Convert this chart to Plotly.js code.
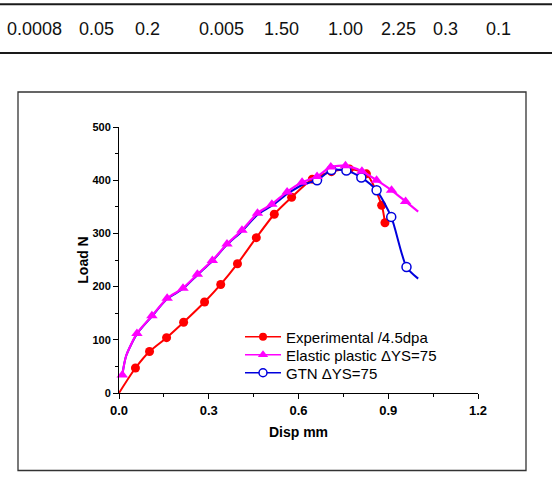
<!DOCTYPE html>
<html>
<head>
<meta charset="utf-8">
<script src="https://cdn.plot.ly/plotly-3.0.1.min.js"></script>
<style>
  html, body { margin: 0; padding: 0; background: #fff; }
  #chart { width: 552px; height: 478px; }
</style>
</head>
<body>
<div id="chart"></div>
<script>
// Row of parameter values shown above the figure
const tableValues = ["0.0008", "0.05", "0.2", "0.005", "1.50", "1.00", "2.25", "0.3", "0.1"];

// Experimental load-displacement curve (4.5 dpa)
const expDisp = [0.000, 0.055, 0.102, 0.159, 0.216, 0.286, 0.340, 0.396, 0.459, 0.519, 0.577, 0.646, 0.710, 0.770, 0.827, 0.878, 0.889];
const expLoad = [0, 47, 78, 104, 133, 171, 204, 243, 292, 336, 368, 402, 416, 421, 412, 353, 320];
const expMarked = [0, 1, 1, 1, 1, 1, 1, 1, 1, 1, 1, 1, 1, 1, 1, 1, 1];

// Elastic-plastic simulation, ΔYS = 75
const epDisp = [0.011, 0.024, 0.060, 0.110, 0.161, 0.214, 0.262, 0.312, 0.361, 0.411, 0.463, 0.511, 0.562, 0.612, 0.662, 0.708, 0.757, 0.812, 0.861, 0.911, 0.958, 1.000];
const epLoad = [34, 70, 112, 145, 178, 197, 223, 249, 280, 306, 338, 355, 378, 396, 407, 425, 427, 417, 400, 381, 360, 341];
const epMarked = [1, 0, 1, 1, 1, 1, 1, 1, 1, 1, 1, 1, 1, 1, 1, 1, 1, 1, 1, 1, 1, 0];

// GTN damage model simulation, ΔYS = 75 (follows the elastic-plastic curve until the peak)
const gtnDisp = [0.011, 0.024, 0.060, 0.110, 0.161, 0.214, 0.262, 0.312, 0.361, 0.411, 0.463, 0.511, 0.562, 0.612, 0.662, 0.710, 0.760, 0.810, 0.861, 0.910, 0.961, 1.000];
const gtnLoad = [34, 70, 111, 144, 177, 196, 222, 248, 279, 304, 335, 352, 374, 391, 400, 419, 418, 405, 381, 331, 237, 215];
const gtnMarked = [0, 0, 0, 0, 0, 0, 0, 0, 0, 0, 0, 0, 0, 0, 1, 1, 1, 1, 1, 1, 1, 0];

const xTicks = [0, 0.3, 0.6, 0.9, 1.2];
const yTicks = [0, 100, 200, 300, 400, 500];

const RED = "#ff0000", MAGENTA = "#ff00ff", BLUE = "#0000dd";

// plot-area geometry in pixels, used to place the framing shapes, legends and the value row
const W = 552, H = 478;
const M = { l: 119, r: 74, t: 127, b: 85 };
const PW = W - M.l - M.r, PH = H - M.t - M.b;
const px = v => (v - M.l) / PW;
const py = v => (H - M.b - v) / PH;

function markerFor(s, size) {
  if (s.open) {
    return { symbol: "circle", size: size, color: "#ffffff", line: { width: 1.5, color: s.color } };
  }
  return { symbol: s.symbol, size: size, color: s.color };
}

const series = [
  { name: "Experimental /4.5dpa", x: expDisp, y: expLoad, m: expMarked, color: RED,
    symbol: "circle", size: 9, legendSize: 8, lw: 2, legend: "legend" },
  { name: "GTN \u0394YS=75", x: gtnDisp, y: gtnLoad, m: gtnMarked, color: BLUE,
    symbol: "circle", open: true, size: 9, legendSize: 8, lw: 2, legend: "legend3" },
  { name: "Elastic plastic \u0394YS=75", x: epDisp, y: epLoad, m: epMarked, color: MAGENTA,
    symbol: "triangle-up", size: 10, legendSize: 9, lw: 2.2, legend: "legend2" }
];

const traces = [];
series.forEach(s => {
  const mk = markerFor(s, s.size);
  mk.opacity = s.m;
  traces.push({
    type: "scatter", mode: "lines+markers", x: s.x, y: s.y,
    line: { color: s.color, width: s.lw, shape: "spline", smoothing: 0.7 },
    marker: mk, showlegend: false, hoverinfo: "skip", cliponaxis: false
  });
});

// one legend per entry so the rows sit at their own heights
series.forEach(s => {
  traces.push({
    type: "scatter", mode: "lines+markers", x: [null], y: [null], name: s.name,
    line: { color: s.color, width: 1.5 }, marker: markerFor(s, s.legendSize),
    showlegend: true, legend: s.legend
  });
});

const legendFont = { family: "Liberation Sans, Arial, sans-serif", size: 15, color: "#000" };
function legendAt(rowY) {
  return {
    x: px(240), y: py(rowY), xanchor: "left", yanchor: "middle",
    font: legendFont, bgcolor: "rgba(0,0,0,0)", borderwidth: 0, itemwidth: 36
  };
}

const tableX = [34, 96, 147, 221, 281, 345, 398, 445, 498];
const annotations = tableValues.map((t, i) => ({
  xref: "paper", yref: "paper", x: px(tableX[i]), y: py(29),
  xanchor: "center", yanchor: "middle", showarrow: false, text: t,
  font: { family: "Liberation Sans, Arial, sans-serif", size: 18, color: "#111" }
}));

const shapes = [
  { type: "line", xref: "paper", yref: "paper", x0: px(0), x1: px(552), y0: py(4.3), y1: py(4.3),
    line: { color: "#1a1a1a", width: 2 } },
  { type: "line", xref: "paper", yref: "paper", x0: px(0), x1: px(552), y0: py(53), y1: py(53),
    line: { color: "#1a1a1a", width: 2 } },
  { type: "rect", xref: "paper", yref: "paper", x0: px(18), x1: px(526), y0: py(92), y1: py(470.5),
    line: { color: "#333", width: 1.3 }, fillcolor: "rgba(0,0,0,0)" }
];

const axisFont = "Liberation Sans, Arial, sans-serif";
const layout = {
  width: W, height: H,
  margin: M,
  paper_bgcolor: "#fff", plot_bgcolor: "#fff",
  showlegend: true,
  legend: legendAt(337),
  legend2: legendAt(355),
  legend3: legendAt(373),
  xaxis: {
    range: [0, 1.2], tickvals: xTicks, tickformat: ".1f",
    showline: true, linecolor: "#000", linewidth: 1, mirror: false,
    ticks: "outside", ticklen: 5, tickwidth: 1, tickcolor: "#000",
    minor: { ticks: "outside", ticklen: 3, tickwidth: 1, tickcolor: "#000", dtick: 0.15 },
    showgrid: false, zeroline: false, automargin: false,
    tickfont: { family: axisFont, size: 13, color: "#000", weight: "bold" },
    title: { text: "<b>Disp mm</b>", font: { family: axisFont, size: 14, color: "#000" }, standoff: 10 }
  },
  yaxis: {
    range: [0, 500], tickvals: yTicks,
    showline: true, linecolor: "#000", linewidth: 1, mirror: false,
    ticks: "outside", ticklen: 5, tickwidth: 1, tickcolor: "#000",
    minor: { ticks: "outside", ticklen: 3, tickwidth: 1, tickcolor: "#000", dtick: 50 },
    showgrid: false, zeroline: false, automargin: false,
    tickfont: { family: axisFont, size: 11, color: "#000", weight: "bold" },
    title: { text: "<b>Load N</b>", font: { family: axisFont, size: 14, color: "#000" }, standoff: 0 }
  },
  annotations: annotations,
  shapes: shapes
};

Plotly.newPlot("chart", traces, layout, { staticPlot: true, displayModeBar: false });
</script>
</body>
</html>
